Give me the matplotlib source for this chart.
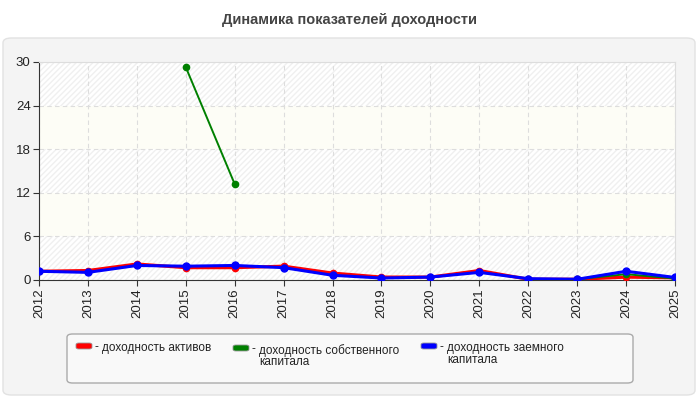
import numpy as np
import matplotlib
matplotlib.use("Agg")
import matplotlib.pyplot as plt
from matplotlib.patches import FancyBboxPatch

plt.rcParams['font.family'] = ['Liberation Sans', 'DejaVu Sans']

years = [2012, 2013, 2014, 2015, 2016, 2017, 2018, 2019, 2020, 2021, 2022, 2023, 2024, 2025]
assets = [1.2, 1.3, 2.2, 1.7, 1.7, 1.9, 0.95, 0.4, 0.4, 1.3, 0.1, 0.1, 0.4, 0.3]
equity = [np.nan, np.nan, np.nan, 29.3, 13.2, np.nan, np.nan, np.nan, np.nan, np.nan, 0.1, 0.1, 0.8, 0.2]
borrowed = [1.2, 1.05, 2.0, 1.9, 2.0, 1.7, 0.65, 0.27, 0.4, 1.05, 0.18, 0.1, 1.2, 0.35]
labels = ["доходность активов", "доходность собственного\nкапитала", "доходность заемного\nкапитала"]
colors = ["#ff0000", "#008000", "#0000ff"]
y_ticks = [0, 6, 12, 18, 24, 30]

fig = plt.figure(figsize=(7, 4), dpi=100)
fig.patch.set_facecolor("white")

# rounded grey panel behind the chart
panel = FancyBboxPatch((3 / 700, 5 / 400), 692 / 700, 357 / 400,
                       boxstyle="round,pad=0,rounding_size=0.012",
                       transform=fig.transFigure, facecolor="#f4f4f4",
                       edgecolor="#e2e2e2", linewidth=1, zorder=-10)
fig.patches.append(panel)

fig.text(0.5, 1 - 20 / 400, "Динамика показателей доходности", ha="center", va="center",
         fontsize=10.5, fontweight="bold", color="#444444")

ax = fig.add_axes([39 / 700, 1 - 280 / 400, 636 / 700, 218 / 400])
ax.set_facecolor("white")
for i in range(0, 30, 6):
    if (i // 6) % 2 == 0:
        ax.axhspan(i, i + 6, facecolor="white", edgecolor="#f0f0f0", hatch="//////", linewidth=0, zorder=0)
    else:
        ax.axhspan(i, i + 6, facecolor="#fdfdf6", linewidth=0, zorder=0)

ax.plot(years, assets, color=colors[0], linewidth=2.3, marker="o", markersize=4.5, zorder=3)
ax.plot(years, equity, color=colors[1], linewidth=1.4, marker="o", markersize=4.5, zorder=4)
ax.plot(years, borrowed, color=colors[2], linewidth=2.2, marker="o", markersize=5, zorder=5)

ax.set_xlim(2012, 2025)
ax.set_ylim(0, 30)
ax.set_xticks(years)
ax.set_xticklabels([str(y) for y in years], rotation=90, fontsize=9.5, color="#222222")
ax.set_yticks(y_ticks)
ax.set_yticklabels([str(v) for v in y_ticks], fontsize=9.5, color="#222222")
ax.grid(True, color="#dddddd", linestyle=(0, (4, 3)), linewidth=0.8)
ax.set_axisbelow(True)
ax.spines['left'].set_color("#333333")
ax.spines['bottom'].set_color("#333333")
ax.spines['top'].set_color("#dddddd")
ax.spines['right'].set_color("#dddddd")
ax.tick_params(axis="both", length=4, color="#333333", pad=2)

# legend box
lbox = FancyBboxPatch((67 / 700, 1 - 383 / 400), 566 / 700, 49 / 400,
                      boxstyle="round,pad=0,rounding_size=0.008",
                      transform=fig.transFigure, facecolor="#f9f9f9",
                      edgecolor="#aaaaaa", linewidth=1, zorder=1)
fig.patches.append(lbox)

lx = [76, 233, 421]
ly = [347, 349, 347]
for x, y, lab, c in zip(lx, ly, labels, colors):
    sw = FancyBboxPatch((x / 700, 1 - (y + 2) / 400), 16 / 700, 6 / 400,
                        boxstyle="round,pad=0,rounding_size=0.004",
                        transform=fig.transFigure, facecolor=c,
                        edgecolor="#999999", linewidth=0.6, zorder=2)
    fig.patches.append(sw)
    fig.text((x + 19) / 700, 1 - (y - 6) / 400, "-", ha="left", va="top",
             fontsize=8.5, color="#222222")
    fig.text((x + 26) / 700, 1 - (y - 5) / 400, lab, ha="left", va="top",
             fontsize=8.5, color="#222222", linespacing=0.95)

fig.savefig("out.png", dpi=100, facecolor=fig.get_facecolor())
